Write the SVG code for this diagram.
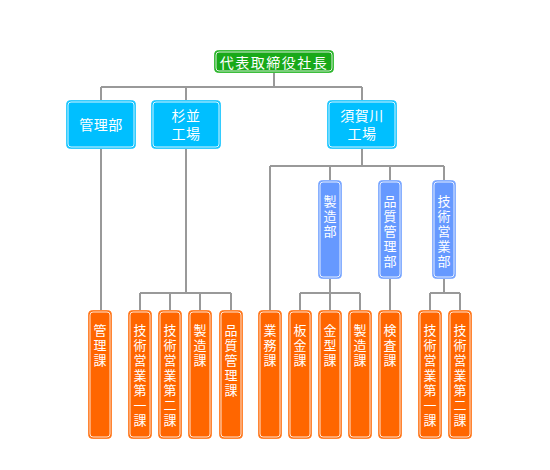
<svg xmlns="http://www.w3.org/2000/svg" width="550" height="470" viewBox="0 0 550 470">
<style>
.t{font-family:"Noto Sans CJK JP","Noto Sans CJK SC",sans-serif;fill:#fff;text-anchor:middle;dominant-baseline:central}
.top{font-size:14px;letter-spacing:1.5px}
.l2{font-size:14px;letter-spacing:0.5px}
.v{font-size:13px}
.in{fill:none;stroke:#fff;stroke-width:1;opacity:0.85}
.g{fill:#19a919;stroke:#3cbf3c}
.c{fill:#00bfff;stroke:#33ccff}
.b{fill:#6699ff;stroke:#88b0ff}
.o{fill:#ff6600;stroke:#ff8533}
.con path{fill:none;stroke:#999;stroke-width:2}
</style>
<rect width="550" height="470" fill="#fff"/>
<g class="con" id="connectors">
<path d="M274 73V87M101 87H362M101 87V100M186 87V100M362 87V100"/>
<path d="M101 149V310"/>
<path d="M186 149V293M140 293H231M140 293V310M170 293V310M200 293V310M231 293V310"/>
<path d="M362 149V166M270 166H444M270 166V310M330 166V180M390 166V180M444 166V180"/>
<path d="M330 279V293M300 293H360M300 293V310M330 293V310M360 293V310"/>
<path d="M390 279V310"/>
<path d="M444 279V293M430 293H460M430 293V310M460 293V310"/>
</g>
<g id="ceo"><rect class="g" x="214.5" y="50.5" width="119" height="22" rx="4"/><rect class="in" x="216" y="52" width="116" height="19" rx="3"/><text class="t top" x="274" y="61.5">代表取締役社長</text></g>
<g id="kanri"><rect class="c" x="66.5" y="100.5" width="69" height="48" rx="4"/><rect class="in" x="68" y="102" width="66" height="45" rx="3"/><text class="t l2" x="101" y="124">管理部</text></g>
<g id="suginami"><rect class="c" x="151.5" y="100.5" width="69" height="48" rx="4"/><rect class="in" x="153" y="102" width="66" height="45" rx="3"/><text class="t l2" x="186" y="115">杉並</text><text class="t l2" x="186" y="133">工場</text></g>
<g id="sukagawa"><rect class="c" x="327.5" y="100.5" width="69" height="48" rx="4"/><rect class="in" x="329" y="102" width="66" height="45" rx="3"/><text class="t l2" x="362" y="115">須賀川</text><text class="t l2" x="362" y="133">工場</text></g>
<g id="seizobu"><rect class="b" x="318.5" y="180.5" width="23" height="98" rx="4"/><rect class="in" x="320" y="182" width="20" height="95" rx="3"/><text class="t v"><tspan x="330" y="200">製</tspan><tspan x="330" dy="15">造</tspan><tspan x="330" dy="15">部</tspan></text></g>
<g id="hinshitsubu"><rect class="b" x="378.5" y="180.5" width="23" height="98" rx="4"/><rect class="in" x="380" y="182" width="20" height="95" rx="3"/><text class="t v"><tspan x="390" y="200">品</tspan><tspan x="390" dy="15">質</tspan><tspan x="390" dy="15">管</tspan><tspan x="390" dy="15">理</tspan><tspan x="390" dy="15">部</tspan></text></g>
<g id="gijutsubu"><rect class="b" x="432.5" y="180.5" width="23" height="98" rx="4"/><rect class="in" x="434" y="182" width="20" height="95" rx="3"/><text class="t v"><tspan x="444" y="200">技</tspan><tspan x="444" dy="15">術</tspan><tspan x="444" dy="15">営</tspan><tspan x="444" dy="15">業</tspan><tspan x="444" dy="15">部</tspan></text></g>
<g id="kanrika"><rect class="o" x="88.5" y="310.5" width="23" height="128" rx="4"/><rect class="in" x="90" y="312" width="20" height="125" rx="3"/><text class="t v"><tspan x="100" y="329">管</tspan><tspan x="100" dy="15">理</tspan><tspan x="100" dy="15">課</tspan></text></g>
<g id="s-gi1"><rect class="o" x="128.5" y="310.5" width="23" height="128" rx="4"/><rect class="in" x="130" y="312" width="20" height="125" rx="3"/><text class="t v"><tspan x="140" y="329">技</tspan><tspan x="140" dy="15">術</tspan><tspan x="140" dy="15">営</tspan><tspan x="140" dy="15">業</tspan><tspan x="140" dy="15">第</tspan><tspan x="140" dy="15">一</tspan><tspan x="140" dy="15">課</tspan></text></g>
<g id="s-gi2"><rect class="o" x="158.5" y="310.5" width="23" height="128" rx="4"/><rect class="in" x="160" y="312" width="20" height="125" rx="3"/><text class="t v"><tspan x="170" y="329">技</tspan><tspan x="170" dy="15">術</tspan><tspan x="170" dy="15">営</tspan><tspan x="170" dy="15">業</tspan><tspan x="170" dy="15">第</tspan><tspan x="170" dy="15">二</tspan><tspan x="170" dy="15">課</tspan></text></g>
<g id="s-seizo"><rect class="o" x="188.5" y="310.5" width="23" height="128" rx="4"/><rect class="in" x="190" y="312" width="20" height="125" rx="3"/><text class="t v"><tspan x="200" y="329">製</tspan><tspan x="200" dy="15">造</tspan><tspan x="200" dy="15">課</tspan></text></g>
<g id="s-hinshitsu"><rect class="o" x="219.5" y="310.5" width="23" height="128" rx="4"/><rect class="in" x="221" y="312" width="20" height="125" rx="3"/><text class="t v"><tspan x="231" y="329">品</tspan><tspan x="231" dy="15">質</tspan><tspan x="231" dy="15">管</tspan><tspan x="231" dy="15">理</tspan><tspan x="231" dy="15">課</tspan></text></g>
<g id="gyomu"><rect class="o" x="258.5" y="310.5" width="23" height="128" rx="4"/><rect class="in" x="260" y="312" width="20" height="125" rx="3"/><text class="t v"><tspan x="270" y="329">業</tspan><tspan x="270" dy="15">務</tspan><tspan x="270" dy="15">課</tspan></text></g>
<g id="bankin"><rect class="o" x="288.5" y="310.5" width="23" height="128" rx="4"/><rect class="in" x="290" y="312" width="20" height="125" rx="3"/><text class="t v"><tspan x="300" y="329">板</tspan><tspan x="300" dy="15">金</tspan><tspan x="300" dy="15">課</tspan></text></g>
<g id="kanagata"><rect class="o" x="318.5" y="310.5" width="23" height="128" rx="4"/><rect class="in" x="320" y="312" width="20" height="125" rx="3"/><text class="t v"><tspan x="330" y="329">金</tspan><tspan x="330" dy="15">型</tspan><tspan x="330" dy="15">課</tspan></text></g>
<g id="k-seizo"><rect class="o" x="348.5" y="310.5" width="23" height="128" rx="4"/><rect class="in" x="350" y="312" width="20" height="125" rx="3"/><text class="t v"><tspan x="360" y="329">製</tspan><tspan x="360" dy="15">造</tspan><tspan x="360" dy="15">課</tspan></text></g>
<g id="kensa"><rect class="o" x="378.5" y="310.5" width="23" height="128" rx="4"/><rect class="in" x="380" y="312" width="20" height="125" rx="3"/><text class="t v"><tspan x="390" y="329">検</tspan><tspan x="390" dy="15">査</tspan><tspan x="390" dy="15">課</tspan></text></g>
<g id="k-gi1"><rect class="o" x="418.5" y="310.5" width="23" height="128" rx="4"/><rect class="in" x="420" y="312" width="20" height="125" rx="3"/><text class="t v"><tspan x="430" y="329">技</tspan><tspan x="430" dy="15">術</tspan><tspan x="430" dy="15">営</tspan><tspan x="430" dy="15">業</tspan><tspan x="430" dy="15">第</tspan><tspan x="430" dy="15">一</tspan><tspan x="430" dy="15">課</tspan></text></g>
<g id="k-gi2"><rect class="o" x="448.5" y="310.5" width="23" height="128" rx="4"/><rect class="in" x="450" y="312" width="20" height="125" rx="3"/><text class="t v"><tspan x="460" y="329">技</tspan><tspan x="460" dy="15">術</tspan><tspan x="460" dy="15">営</tspan><tspan x="460" dy="15">業</tspan><tspan x="460" dy="15">第</tspan><tspan x="460" dy="15">二</tspan><tspan x="460" dy="15">課</tspan></text></g>
</svg>
